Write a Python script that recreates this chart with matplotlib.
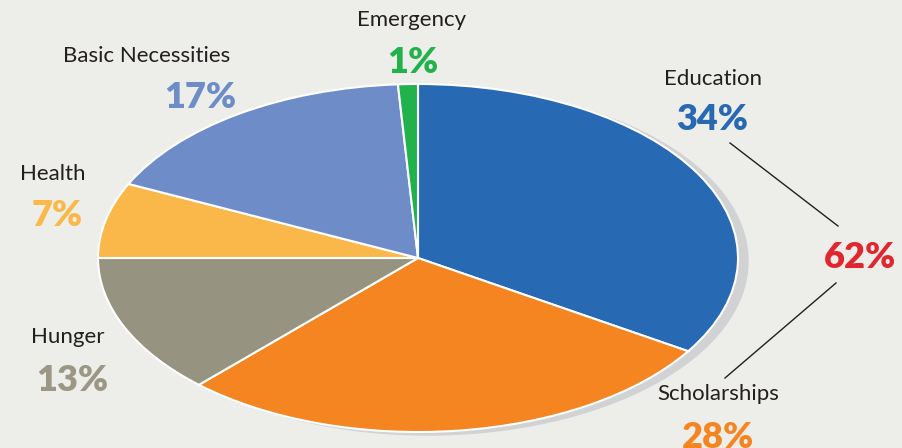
import matplotlib.pyplot as plt
from matplotlib.patches import Ellipse

# data
categories = ['Education', 'Scholarships', 'Hunger', 'Health', 'Basic Necessities', 'Emergency']
shares = [34, 28, 13, 7, 17, 1]
pct_labels = ['34%', '28%', '13%', '7%', '17%', '1%']
colors = ['#2869b3', '#f58520', '#969380', '#fbb84a', '#6e8cc8', '#22b24c']
text_colors = ['#2869b3', '#f58520', '#9b9784', '#fbb84a', '#6e8cc8', '#22b24c']
combined_label = '62%'

W, H = 903, 448
CX, CY, RX, RY = 418, 258, 320, 174
BG = '#ededea'

plt.rcParams['font.family'] = ['Lato', 'DejaVu Sans']

fig = plt.figure(figsize=(W / 100, H / 100), dpi=100, facecolor=BG)
ax = fig.add_axes([0, 0, 1, 1])
ax.set_facecolor(BG)
ax.axis('off')


def px(x, y):
    """pixel position (top-left origin) -> figure fraction"""
    return x / W, 1 - y / H


# shadow behind the pie
ax.add_patch(Ellipse((10 / RX, -3 / RY), 2.0, 2.0, color='#d1d2d4', zorder=0))

ax.pie(shares, colors=colors, startangle=90, counterclock=False, radius=1,
       wedgeprops=dict(edgecolor='white', linewidth=1.5), frame=False)
# axis units chosen so the unit circle becomes the squashed ellipse
ax.set_xlim(-CX / RX, (W - CX) / RX)
ax.set_ylim((CY - H) / RY, CY / RY)
ax.set_aspect('auto')

# label positions (pixel centers): name, percentage
label_pos = {
    'Education': ((713, 79), (712, 120)),
    'Scholarships': ((718, 394), (718, 437)),
    'Hunger': ((68, 337), (72, 380)),
    'Health': ((53, 174), (57, 215)),
    'Basic Necessities': ((147, 56), (200, 97)),
    'Emergency': ((412, 20), (413, 62)),
}

for cat, pct, tc in zip(categories, pct_labels, text_colors):
    (nx, ny), (qx, qy) = label_pos[cat]
    fig.text(*px(nx, ny), cat, ha='center', va='center', fontsize=16, color='#231f20')
    fig.text(*px(qx, qy), pct, ha='center', va='center', fontsize=26,
             fontweight='heavy', color=tc)

fig.text(*px(860, 258), combined_label, ha='center', va='center', fontsize=26,
         fontweight='heavy', color='#e0262e')

for (x0, y0), (x1, y1) in [((730, 143), (838, 226)), ((836, 283), (725, 378))]:
    fig.add_artist(plt.Line2D([x0 / W, x1 / W], [1 - y0 / H, 1 - y1 / H],
                              color='#231f20', lw=1.0, transform=fig.transFigure))

plt.savefig('out.png', dpi=100, facecolor=BG)
